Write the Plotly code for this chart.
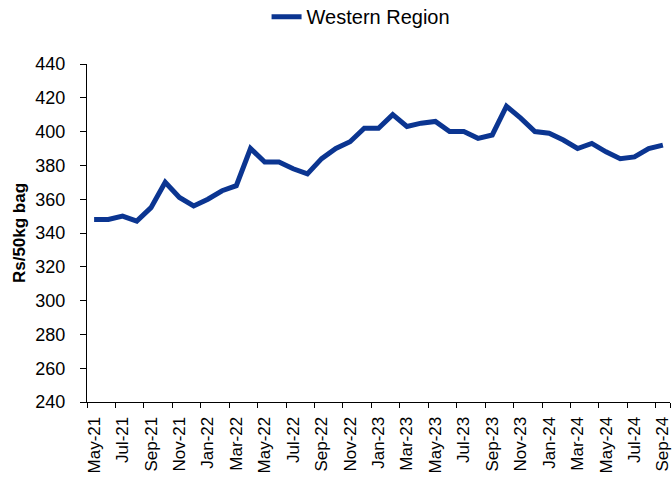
import plotly.graph_objects as go

months = ["May-21", "Jun-21", "Jul-21", "Aug-21", "Sep-21", "Oct-21", "Nov-21", "Dec-21",
          "Jan-22", "Feb-22", "Mar-22", "Apr-22", "May-22", "Jun-22", "Jul-22", "Aug-22",
          "Sep-22", "Oct-22", "Nov-22", "Dec-22", "Jan-23", "Feb-23", "Mar-23", "Apr-23",
          "May-23", "Jun-23", "Jul-23", "Aug-23", "Sep-23", "Oct-23", "Nov-23", "Dec-23",
          "Jan-24", "Feb-24", "Mar-24", "Apr-24", "May-24", "Jun-24", "Jul-24", "Aug-24",
          "Sep-24"]

western_region = [348, 348, 350, 347, 355, 370, 361, 356, 360, 365, 368, 390, 382, 382, 378, 375,
                  384, 390, 394, 402, 402, 410, 403, 405, 406, 400, 400, 396, 398, 415, 408, 400,
                  399, 395, 390, 393, 388, 384, 385, 390, 392]

tick_labels = months[::2]
y_ticks = [240, 260, 280, 300, 320, 340, 360, 380, 400, 420, 440]

LINE_COLOR = "#0B3591"
FONT = "Liberation Sans, Arial, sans-serif"

fig = go.Figure()
fig.add_trace(go.Scatter(
    x=months, y=western_region, mode="lines", name="Western Region",
    line=dict(color=LINE_COLOR, width=5),
))

fig.update_layout(
    width=672, height=482,
    margin=dict(l=87, r=2, t=64, b=80, autoexpand=False),
    paper_bgcolor="white", plot_bgcolor="white",
    font=dict(family=FONT, color="black", size=18),
    showlegend=True,
    legend=dict(orientation="h", x=0.308, xref="paper", xanchor="left",
                y=1.14, yref="paper", yanchor="middle",
                font=dict(size=20, color="black"), bgcolor="rgba(0,0,0,0)"),
)

fig.update_xaxes(
    type="category", categoryorder="array", categoryarray=months,
    range=[-0.5, len(months) - 0.5],
    tickmode="array", tickvals=tick_labels, ticktext=tick_labels,
    tickson="boundaries",
    ticks="outside", ticklen=5, tickwidth=1, tickcolor="black",
    tickangle=-90, tickfont=dict(size=17), ticklabelstandoff=7,
    showline=True, linecolor="black", linewidth=1,
    showgrid=False, zeroline=False, automargin=False,
)
fig.update_yaxes(
    range=[240, 440], tickmode="array", tickvals=y_ticks,
    ticks="outside", ticklen=6, tickwidth=1, tickcolor="black",
    tickfont=dict(size=18), ticklabelstandoff=11,
    showline=True, linecolor="black", linewidth=1,
    showgrid=False, zeroline=False, automargin=False,
    title=dict(text="<b>Rs/50kg bag</b>", font=dict(size=17), standoff=5),
)

fig.write_html("out.html", config={"displayModeBar": False},
               post_script="document.body.style.margin='0';document.body.style.padding='0';")
